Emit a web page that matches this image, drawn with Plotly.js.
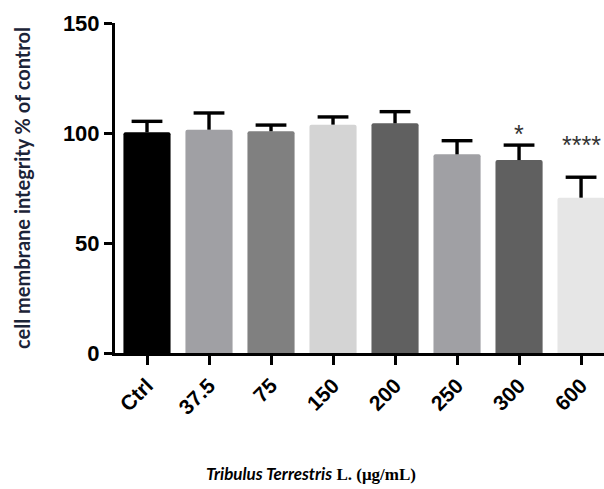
<!DOCTYPE html>
<html>
<head>
<meta charset="utf-8">
<script src="https://cdn.plot.ly/plotly-3.0.1.min.js"></script>
<style>html,body{margin:0;padding:0;background:#fff;}#chart{width:604px;height:489px;}</style>
</head>
<body>
<div id="chart"></div>
<script>
// Data
const categories = ["Ctrl", "37.5", "75", "150", "200", "250", "300", "600"];
const means = [100.3, 101.5, 100.8, 103.8, 104.4, 90.3, 87.7, 70.6];
const errors = [5.0, 7.6, 2.8, 3.5, 5.3, 6.2, 6.8, 9.3];
const significance = ["", "", "", "", "", "", "*", "****"];
const yTicks = [0, 50, 100, 150];

// Styles
const barColors = ["#000000", "#a0a0a4", "#808080", "#d4d4d4", "#606060", "#a0a0a4", "#606060", "#e6e6e6"];
const xIdx = categories.map((c, i) => i);

const bars = {
  type: "bar",
  x: xIdx,
  y: means,
  width: 0.76,
  marker: { color: barColors, line: { width: 0 }, cornerradius: 2 },
  error_y: {
    type: "data", symmetric: false,
    array: errors, arrayminus: errors.map(() => 0),
    color: "#000", thickness: 3.4, width: 0
  },
  hoverinfo: "skip"
};

// caps of the (upper-only) error bars
const caps = {
  type: "scatter", mode: "markers",
  x: xIdx,
  y: means.map((m, i) => m + errors[i]),
  marker: { symbol: "line-ew", size: 22, color: "#000", line: { width: 3.4, color: "#000" } },
  hoverinfo: "skip", cliponaxis: false
};

const annotations = [];
significance.forEach((s, i) => {
  if (!s) return;
  annotations.push({
    x: i, y: means[i] + errors[i], xref: "x", yref: "y",
    text: s, showarrow: false, yanchor: "middle",
    yshift: i === 7 ? 32 : 11,
    font: { family: "Liberation Sans, Arial, sans-serif", size: 25, color: "#333" }
  });
});
annotations.push({
  xref: "paper", yref: "paper", x: 0.40, y: -0.365, xanchor: "center", yanchor: "middle",
  showarrow: false,
  text: "<b><i>Tribulus Terrestris</i></b><b><span style='font-family:Liberation Serif, Times New Roman, serif'> L. (μg/mL)</span></b>",
  font: { family: "Lato, Calibri, sans-serif", size: 17, color: "#000" }
});

const layout = {
  width: 604, height: 489,
  margin: { l: 115, r: 0, t: 23, b: 136, pad: 0 },
  paper_bgcolor: "#fff", plot_bgcolor: "#fff",
  showlegend: false,
  xaxis: {
    range: [-0.516, 7.37],
    tickmode: "array", tickvals: xIdx, ticktext: categories,
    tickangle: -45,
    ticks: "outside", ticklen: 9, tickwidth: 3, tickcolor: "#000",
    showline: true, linewidth: 3, linecolor: "#000",
    showgrid: false, zeroline: false,
    tickfont: { family: "Liberation Sans, Arial, sans-serif", size: 21, color: "#000", weight: "bold" }
  },
  yaxis: {
    range: [0, 150],
    tickmode: "array", tickvals: yTicks, ticktext: yTicks.map(String),
    ticks: "outside", ticklen: 8, tickwidth: 3, tickcolor: "#000",
    showline: true, linewidth: 3, linecolor: "#000",
    showgrid: false, zeroline: false,
    tickfont: { family: "Liberation Sans, Arial, sans-serif", size: 22, color: "#000", weight: "bold" },
    title: {
      text: "<b>cell membrane integrity % of control</b>",
      standoff: 27,
      font: { family: "Lato, Calibri, sans-serif", size: 20, color: "#1c2438" }
    }
  },
  annotations: annotations
};

Plotly.newPlot("chart", [bars, caps], layout, { displayModeBar: false, staticPlot: true });
</script>
</body>
</html>
